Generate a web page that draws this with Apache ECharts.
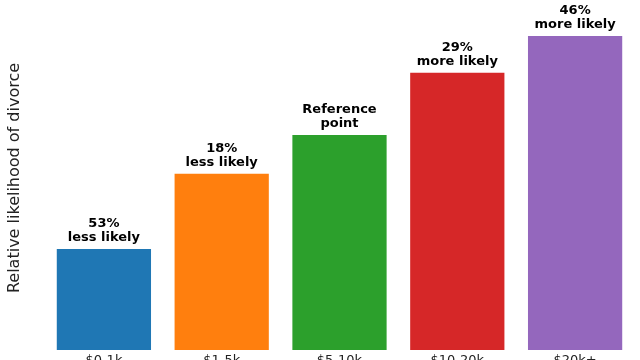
<!DOCTYPE html>
<html>
<head>
<meta charset="utf-8">
<script src="https://cdn.jsdelivr.net/npm/echarts@6/dist/echarts.min.js"></script>
<style>html,body{margin:0;padding:0;background:#fff;}#c{width:640px;height:360px;}</style>
</head>
<body>
<div id="c"></div>
<script>
const categories = ['$0-1k', '$1-5k', '$5-10k', '$10-20k', '$20k+'];
const values = [0.47, 0.82, 1.0, 1.29, 1.46];
const barLabels = ['53%\nless likely', '18%\nless likely', 'Reference\npoint', '29%\nmore likely', '46%\nmore likely'];
const colors = ['#1f77b4', '#ff7f0e', '#2ca02c', '#d62728', '#9467bd'];
const yAxisTitle = 'Relative likelihood of divorce';

const chart = echarts.init(document.getElementById('c'));
chart.setOption({
  animation: false,
  grid: { left: 45, right: 6, top: 6, bottom: 10, containLabel: false, outerBoundsMode: 'none' },
  xAxis: {
    type: 'category',
    data: categories,
    axisLine: { show: false },
    axisTick: { show: false },
    axisLabel: { margin: 4, fontFamily: 'DejaVu Sans', fontSize: 13, color: '#222' }
  },
  yAxis: {
    type: 'value',
    min: 0,
    max: 1.6,
    axisLine: { show: false },
    axisTick: { show: false },
    axisLabel: { show: false },
    splitLine: { show: false },
    name: yAxisTitle,
    nameLocation: 'middle',
    nameGap: 22,
    nameTextStyle: { fontFamily: 'DejaVu Sans', fontSize: 16, color: '#222' }
  },
  series: [{
    type: 'bar',
    data: values.map((v, i) => ({ value: v, itemStyle: { color: colors[i] } })),
    barCategoryGap: '20%',
    label: {
      show: true,
      position: 'top',
      distance: 4,
      formatter: p => barLabels[p.dataIndex],
      fontFamily: 'DejaVu Sans',
      fontWeight: 'bold',
      fontSize: 13,
      lineHeight: 14,
      color: '#000'
    }
  }]
});
</script>
</body>
</html>
